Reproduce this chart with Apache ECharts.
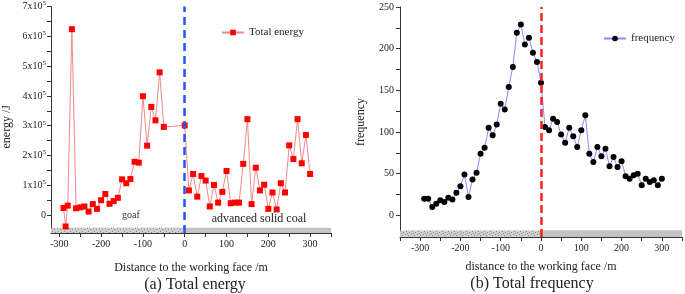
<!DOCTYPE html>
<html>
<head>
<meta charset="utf-8">
<script src="https://cdn.jsdelivr.net/npm/echarts@6/dist/echarts.min.js"></script>
<style>
html,body{margin:0;padding:0;background:#fff;}
#main{width:685px;height:294px;}
</style>
</head>
<body>
<div id="main"></div>
<script>
// (a) total energy, distance in m, energy in J
var energyX = [-290,-285,-280,-270,-260,-250,-240,-230,-220,-210,-200,-190,-180,-170,-160,-150,-140,-130,-120,-110,-100,-90,-80,-70,-60,-50,0,
    10,20,30,40,50,60,70,80,90,100,110,120,130,140,150,160,170,180,190,200,210,220,230,240,250,260,270,280,290,300];
var energyY = [24000,-38000,32000,624000,23000,26000,29000,12000,37000,21000,50000,71000,38000,47000,58000,120000,107000,121000,179000,176000,399000,233000,363000,318000,479000,296000,301000,
    83000,138000,62000,131000,116000,29000,101000,42000,78000,148000,40000,42000,42000,172000,322000,37000,159000,83000,102000,21000,76000,19000,107000,76000,234000,188000,322000,174000,269000,138000];
// (b) total frequency
var freqX = [-290,-280,-270,-260,-250,-240,-230,-220,-210,-200,-190,-180,-170,-160,-150,-140,-130,-120,-110,-100,-90,-80,-70,-60,-50,-40,-30,-20,-10,0,
    10,20,30,40,50,60,70,80,90,100,110,120,130,140,150,160,170,180,190,200,210,220,230,240,250,260,270,280,290,300];
var freqY = [20,20,10,14,18,16,21,19,27,35,49,22,43,51,74,81,105,96,109,134,127,154,178,219,229,205,213,195,184,159,
    106,102,116,112,97,87,105,95,82,102,120,74,64,82,71,80,59,70,58,65,47,44,48,50,36,44,40,42,36,44];

var xTicksA = [-300,-250,-200,-150,-100,-50,0,50,100,150,200,250,300,350];
var xLabelsA = [-300,-200,-100,0,100,200,300];
var yTicksA = [0,50000,100000,150000,200000,250000,300000,350000,400000,450000,500000,550000,600000,650000,700000];
var yLabelsA = [0,100000,200000,300000,400000,500000,600000,700000];
var xTicksB = [-350,-300,-250,-200,-150,-100,-50,0,50,100,150,200,250,300,350];
var xLabelsB = [-300,-200,-100,0,100,200,300];
var yTicksB = [0,25,50,75,100,125,150,175,200,225,250];
var yLabelsB = [0,50,100,150,200,250];

var serif = '"Liberation Serif","Times New Roman",serif';

// stippled fill for the goaf strip
var pat = document.createElement('canvas');
pat.width = 6; pat.height = 6;
var pc = pat.getContext('2d');
pc.fillStyle = '#cfcfcf'; pc.fillRect(0,0,6,6);
pc.fillStyle = '#8c8c8c';
pc.fillRect(0,1,1,1); pc.fillRect(3,0,1,1); pc.fillRect(4,3,1,1); pc.fillRect(1,4,1,1); pc.fillRect(5,5,1,1);
var hatch = {image: pat, repeat: 'repeat'};

function pairs(xs, ys) {
    var out = [];
    for (var i = 0; i < xs.length; i++) out.push([xs[i], ys[i]]);
    return out;
}

function valAxis(extra) {
    var base = {
        type: 'value',
        axisLine: {onZero: false, lineStyle: {color: '#333', width: 1}},
        splitLine: {show: false}
    };
    return Object.assign(base, extra);
}

var chart = echarts.init(document.getElementById('main'));
chart.setOption({
    animation: false,
    backgroundColor: '#fff',
    grid: [
        {left: 49, top: 5, width: 282, height: 228},
        {left: 400, top: 7, width: 282, height: 230}
    ],
    xAxis: [
        valAxis({gridIndex: 0, min: -320, max: 350,
            axisTick: {length: 4, lineStyle: {color: '#333'}, customValues: xTicksA},
            axisLabel: {customValues: xLabelsA, margin: 6, color: '#222', fontFamily: serif, fontSize: 10},
            name: 'Distance to the working face /m', nameLocation: 'middle', nameGap: 29,
            nameTextStyle: {color: '#222', fontFamily: serif, fontSize: 12}}),
        valAxis({gridIndex: 1, min: -350, max: 350,
            axisTick: {length: 4, lineStyle: {color: '#333'}, customValues: xTicksB},
            axisLabel: {customValues: xLabelsB, margin: 6, color: '#222', fontFamily: serif, fontSize: 10},
            name: 'distance to the working face /m', nameLocation: 'middle', nameGap: 24,
            nameTextStyle: {color: '#222', fontFamily: serif, fontSize: 12}})
    ],
    yAxis: [
        valAxis({gridIndex: 0, min: -60000, max: 700000,
            axisTick: {length: 4, lineStyle: {color: '#333'}, customValues: yTicksA},
            axisLabel: {customValues: yLabelsA, margin: 5, color: '#222', fontFamily: serif, fontSize: 10,
                formatter: function (v) {
                    if (v === 0) return '0';
                    return '{b|' + (v / 100000) + 'x10}{s|5}';
                },
                rich: {
                    b: {fontFamily: serif, fontSize: 10, color: '#222'},
                    s: {fontFamily: serif, fontSize: 7, color: '#222', padding: [0, 0, 6, 0]}
                }},
            name: 'energy /J', nameLocation: 'middle', nameGap: 38,
            nameTextStyle: {color: '#222', fontFamily: serif, fontSize: 12, padding: [0, 14, 0, 0]}}),
        valAxis({gridIndex: 1, min: -26, max: 250,
            axisTick: {length: 4, lineStyle: {color: '#333'}, customValues: yTicksB},
            axisLabel: {customValues: yLabelsB, margin: 6, color: '#222', fontFamily: serif, fontSize: 10},
            name: 'frequency', nameLocation: 'middle', nameGap: 33,
            nameTextStyle: {color: '#222', fontFamily: serif, fontSize: 12}})
    ],
    legend: [
        {data: ['Total energy'], left: 216, top: 22, itemWidth: 22, itemHeight: 7, itemGap: 6,
            textStyle: {fontFamily: serif, fontSize: 11, color: '#222'}},
        {data: ['frequency'], left: 598, top: 28, itemWidth: 22, itemHeight: 7, itemGap: 6,
            textStyle: {fontFamily: serif, fontSize: 11, color: '#222'}}
    ],
    series: [
        {
            name: 'Total energy', type: 'line', xAxisIndex: 0, yAxisIndex: 0,
            data: pairs(energyX, energyY),
            symbol: 'rect', symbolSize: 6,
            itemStyle: {color: '#ff0000'},
            lineStyle: {color: '#f08a8a', width: 1},
            markArea: {silent: true, data: [
                [{coord: [-320, -60000], itemStyle: {color: hatch}}, {coord: [0, -42000]}],
                [{coord: [0, -60000], itemStyle: {color: '#c4c4c4'}}, {coord: [350, -42000]}]
            ]},
            markLine: {silent: true, symbol: 'none', label: {show: false},
                lineStyle: {color: '#2952ff', type: [8, 5], width: 2.5},
                data: [{xAxis: 0}]}
        },
        {
            name: 'frequency', type: 'line', xAxisIndex: 1, yAxisIndex: 1,
            data: pairs(freqX, freqY),
            symbol: 'circle', symbolSize: 6,
            itemStyle: {color: '#000'},
            lineStyle: {color: '#8a8aff', width: 1},
            markArea: {silent: true, data: [
                [{coord: [-350, -26], itemStyle: {color: hatch}}, {coord: [0, -18]}],
                [{coord: [0, -26], itemStyle: {color: '#c4c4c4'}}, {coord: [350, -18]}]
            ]},
            markLine: {silent: true, symbol: 'none', label: {show: false},
                lineStyle: {color: '#ff2020', type: [8, 4], width: 2.5},
                data: [{xAxis: 0}]}
        }
    ],
    graphic: [
        {type: 'text', x: 131, y: 215, style: {text: 'goaf', font: '10px ' + serif, fill: '#333', textAlign: 'center', textVerticalAlign: 'middle'}},
        {type: 'text', x: 259, y: 219, style: {text: 'advanced solid coal', font: '12px ' + serif, fill: '#222', textAlign: 'center', textVerticalAlign: 'middle'}},
        {type: 'text', x: 195, y: 285, style: {text: '(a) Total energy', font: '16px ' + serif, fill: '#222', textAlign: 'center', textVerticalAlign: 'middle'}},
        {type: 'text', x: 532, y: 284, style: {text: '(b) Total frequency', font: '16px ' + serif, fill: '#222', textAlign: 'center', textVerticalAlign: 'middle'}}
    ]
});
</script>
</body>
</html>
